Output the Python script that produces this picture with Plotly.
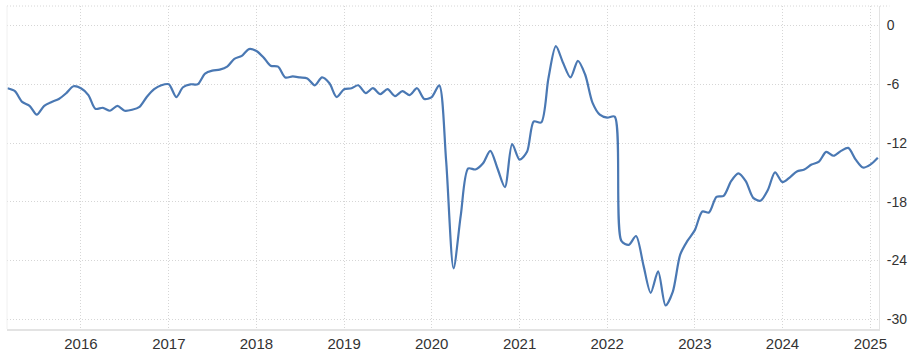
import plotly.graph_objects as go
import pandas as pd

# ---- data ----
start_month = "2015-03-01"
values = [
    # 2015 Mar-Dec
    -6.4, -6.7, -7.8, -8.2, -9.1, -8.2, -7.8, -7.5, -6.9, -6.2,
    # 2016
    -6.4, -7.1, -8.5, -8.4, -8.7, -8.2, -8.7, -8.6, -8.3, -7.3, -6.5, -6.1,
    # 2017
    -6.0, -7.3, -6.3, -6.0, -6.0, -4.9, -4.6, -4.5, -4.2, -3.4, -3.1, -2.4,
    # 2018
    -2.6, -3.3, -4.1, -4.2, -5.3, -5.2, -5.3, -5.4, -6.1, -5.3, -5.9, -7.3,
    # 2019
    -6.5, -6.4, -6.1, -6.9, -6.4, -7.0, -6.5, -7.2, -6.7, -7.1, -6.4, -7.5,
    # 2020
    -7.3, -6.1, -13.8, -24.8, -19.4, -14.6, -14.7, -14.1, -12.8, -14.6, -16.5, -12.1,
    # 2021
    -13.7, -12.9, -9.8, -9.9, -5.4, -2.1, -3.8, -5.3, -3.6, -5.0, -7.9, -9.1,
    # 2022
    -9.4, -9.3, -22.0, -22.4, -21.5, -24.5, -27.3, -25.1, -28.6, -27.2, -23.4, -22.0,
    # 2023
    -20.9, -19.0, -19.1, -17.5, -17.4, -15.9, -15.1, -15.9, -17.6, -17.9, -16.8, -15.0,
    # 2024
    -16.0, -15.5, -14.9, -14.7, -14.2, -13.9, -12.9, -13.3, -12.8, -12.5, -13.7, -14.5,
    # 2025 Jan-Feb
    -14.2, -13.5,
]
dates = pd.date_range(start_month, periods=len(values), freq="MS")

year_ticks = [f"{y}-01-01" for y in range(2016, 2026)]
year_labels = [str(y) for y in range(2016, 2026)]
y_ticks = [0, -6, -12, -18, -24, -30]
y_labels = ["0", "-6", "-12", "-18", "-24", "-30"]

LINE = "#4a78b3"
GRID = "#d6d6d6"
AXIS = "#e3e3e3"
TEXT = "#333333"
FONT = "Liberation Sans, Arial, sans-serif"
DOT = "1px,2px"

fig = go.Figure()
fig.add_trace(go.Scatter(
    x=dates, y=values, mode="lines",
    line=dict(color=LINE, width=2.2, shape="spline", smoothing=0.8),
    hoverinfo="skip",
))

fig.update_layout(
    width=914, height=358,
    margin=dict(l=7, r=35, t=6, b=27),
    plot_bgcolor="white", paper_bgcolor="white",
    showlegend=False,
    font=dict(family=FONT, color=TEXT),
)
fig.update_xaxes(
    type="date",
    range=["2015-02-27", "2025-02-06"],
    tickmode="array", tickvals=year_ticks, ticktext=year_labels,
    showgrid=True, gridcolor=GRID, griddash=DOT, gridwidth=1,
    showline=True, linecolor=AXIS, linewidth=2,
    ticks="", tickfont=dict(size=15, color=TEXT, family=FONT),
    zeroline=False,
)
fig.update_yaxes(
    side="right",
    range=[-31, 2],
    tickmode="array", tickvals=y_ticks, ticktext=y_labels,
    showgrid=True, gridcolor=GRID, griddash=DOT, gridwidth=1,
    showline=True, linecolor=AXIS, linewidth=1,
    ticks="", ticklabelstandoff=4,
    tickfont=dict(size=14, color=TEXT, family=FONT),
    zeroline=False,
)
# top dotted border and faint left border
fig.add_shape(type="line", xref="paper", yref="paper", x0=0, x1=1.012, y0=1, y1=1,
              line=dict(color=GRID, width=1, dash=DOT))
fig.add_shape(type="line", xref="paper", yref="paper", x0=0, x1=0, y0=0, y1=1,
              line=dict(color="#f0f0f0", width=1))

fig.write_html("out.html", config={"displayModeBar": False},
               post_script="document.body.style.margin='0';")
